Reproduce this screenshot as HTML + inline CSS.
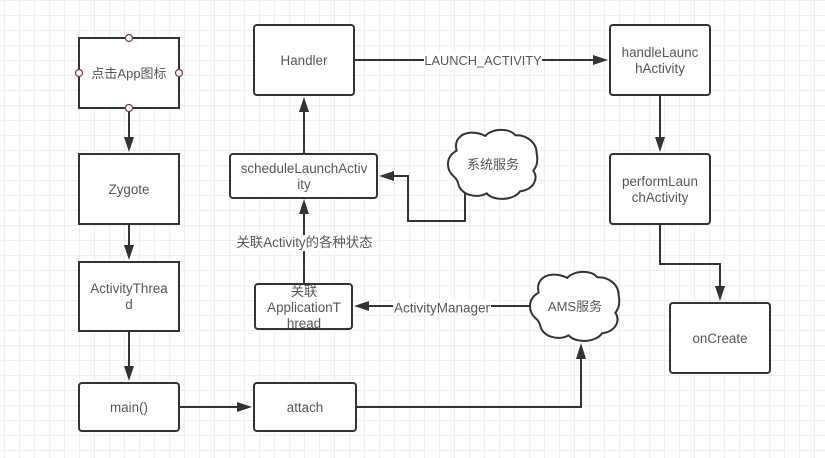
<!DOCTYPE html>
<html><head><meta charset="utf-8"><style>
html,body{margin:0;padding:0;background:#fff}
svg{display:block}
text{font-family:"Liberation Sans","Noto Sans CJK SC",sans-serif;font-size:13.4px;fill:#555;text-anchor:middle}
.b{fill:#fff;stroke:#333;stroke-width:2}
.c{fill:#fff;stroke:#333;stroke-width:6;stroke-linejoin:round}
.l{fill:none;stroke:#333;stroke-width:2}
.a{fill:#333}
.h{fill:#fff;stroke:#7a3a45;stroke-width:1.2}
</style></head><body>
<svg width="825" height="458" viewBox="0 0 825 458" xmlns="http://www.w3.org/2000/svg">
<defs>
<pattern id="g" width="60" height="60" patternUnits="userSpaceOnUse" x="49.500" y="45.500">
<path d="M15 0V60M30 0V60M45 0V60M0 15H60M0 30H60M0 45H60" stroke="#eeeeee" stroke-width="1" fill="none"/>
<path d="M0 0V60M0 0H60" stroke="#e2e2e2" stroke-width="1.2" fill="none"/>
</pattern>
</defs>
<rect width="825" height="458" fill="#fff"/>
<rect width="825" height="458" fill="url(#g)"/>

<path class="l" d="M129 108V138"/><path class="a" d="M124 137L129 152L134 137Z"/>
<path class="l" d="M129 224V246"/><path class="a" d="M124 245L129 260L134 245Z"/>
<path class="l" d="M129 331V367"/><path class="a" d="M124 366L129 381L134 366Z"/>
<path class="l" d="M179 407H238"/><path class="a" d="M237 402L252 407L237 412Z"/>
<path class="l" d="M356 407H581V358"/><path class="a" d="M576 359L581 343L586 359Z"/>
<path class="l" d="M530 306H368"/><path class="a" d="M369 301L354 306L369 311Z"/>
<path class="l" d="M304 284V213"/><path class="a" d="M299 214L304 199L309 214Z"/>
<path class="l" d="M304 154V111"/><path class="a" d="M299 112L304 97L309 112Z"/>
<path class="l" d="M465 193V221H408V176H393"/><path class="a" d="M394 171L379 176L394 181Z"/>
<path class="l" d="M354 60H594"/><path class="a" d="M593 55L608 60L593 65Z"/>
<path class="l" d="M660 95V138"/><path class="a" d="M655 137L660 152L665 137Z"/>
<path class="l" d="M660 224V264H720V287"/><path class="a" d="M715 286L720 301L725 286Z"/>

<rect class="b" x="79" y="38" width="100" height="70"/>
<rect class="b" x="79" y="154" width="100" height="70"/>
<rect class="b" x="79" y="262" width="100" height="69"/>
<rect class="b" x="79" y="383" width="100" height="48" rx="3"/>
<rect class="b" x="254" y="383" width="102" height="48" rx="3"/>
<rect class="b" x="255" y="284" width="97" height="45" rx="3"/>
<rect class="b" x="230" y="154" width="147" height="44" rx="3"/>
<rect class="b" x="254" y="25" width="100" height="70" rx="3"/>
<rect class="b" x="610" y="25" width="100" height="70" rx="3"/>
<rect class="b" x="610" y="154" width="100" height="70" rx="3"/>
<rect class="b" x="670" y="303" width="100" height="70" rx="3"/>

<path class="c" transform="translate(440 120) scale(.33333)" d="M50 92C42 62 60 40 92 38C108 37 125 42 136 48C150 28 205 20 226 46C258 44 290 66 290 100C294 120 292 138 280 152C296 176 282 208 240 214C224 240 162 246 140 220C110 236 68 226 56 196C54 184 50 176 40 168C20 150 14 112 50 92Z"/>
<path class="c" transform="translate(522 262) scale(.33333)" d="M50 92C42 62 60 40 92 38C108 37 125 42 136 48C150 28 205 20 226 46C258 44 290 66 290 100C294 120 292 138 280 152C296 176 282 208 240 214C224 240 162 246 140 220C110 236 68 226 56 196C54 184 50 176 40 168C20 150 14 112 50 92Z"/>

<circle class="h" cx="129" cy="38" r="3.5"/>
<circle class="h" cx="129" cy="108" r="3.5"/>
<circle class="h" cx="79" cy="73" r="3.5"/>
<circle class="h" cx="179" cy="73" r="3.5"/>

<text x="129" y="78" style="font-size:13px">点击App图标</text>
<text x="129" y="194">Zygote</text>
<text x="129" y="293">ActivityThrea</text>
<text x="129" y="309">d</text>
<text x="129" y="412">main()</text>
<text x="305" y="412">attach</text>
<text x="304" y="65">Handler</text>
<text x="304" y="173">scheduleLaunchActiv</text>
<text x="304" y="189">ity</text>
<text x="304" y="296">关联</text>
<text x="304" y="312">ApplicationT</text>
<text x="304" y="328">hread</text>
<text x="660" y="57">handleLaunc</text>
<text x="660" y="73">hActivity</text>
<text x="660" y="186">performLaun</text>
<text x="660" y="202">chActivity</text>
<text x="720" y="343">onCreate</text>
<text x="493" y="169" style="font-size:13px">系统服务</text>
<text x="575" y="311" style="font-size:13px">AMS服务</text>

<rect x="424" y="52" width="118" height="16" fill="#fff"/>
<text x="483" y="65" style="font-size:12.8px">LAUNCH_ACTIVITY</text>
<rect x="393" y="299" width="98" height="16" fill="#fff"/>
<text x="442" y="312.500" style="font-size:13.5px">ActivityManager</text>
<rect x="236" y="235" width="137" height="16" fill="#fff"/>
<text x="304.500" y="247">关联Activity的各种状态</text>
</svg>
</body></html>
